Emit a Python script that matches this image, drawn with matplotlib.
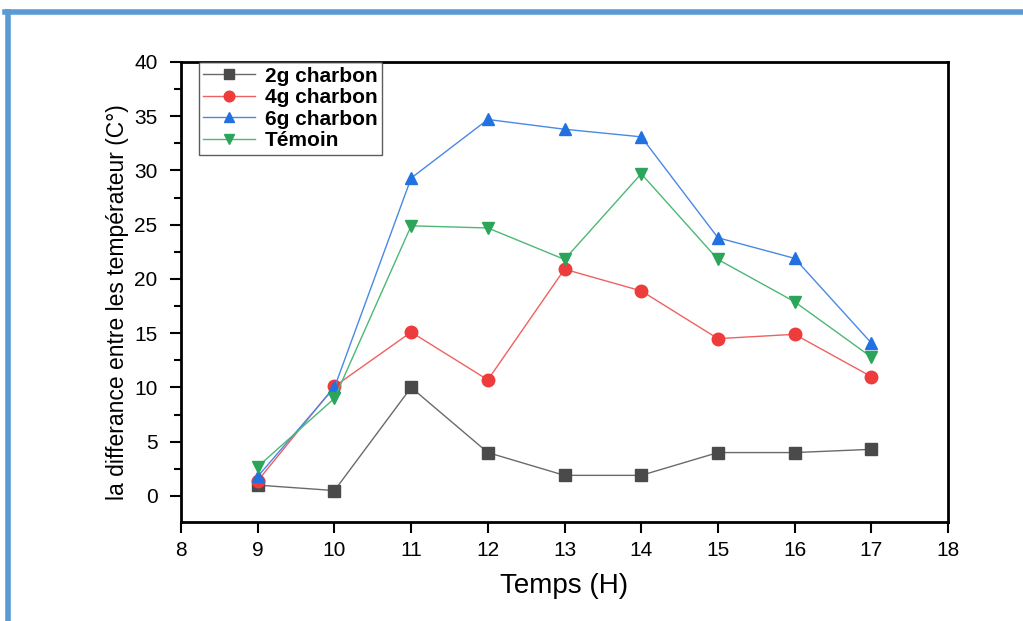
import numpy as np
import matplotlib
matplotlib.use('Agg')
import matplotlib.pyplot as plt
from matplotlib.lines import Line2D
from matplotlib.ticker import MultipleLocator

# data
hours = [9, 10, 11, 12, 13, 14, 15, 16, 17]
charbon_2g = [1.0, 0.5, 10.0, 4.0, 1.9, 1.9, 4.0, 4.0, 4.3]
charbon_4g = [1.4, 10.1, 15.1, 10.7, 20.9, 18.9, 14.5, 14.9, 11.0]
charbon_6g = [1.8, 10.0, 29.3, 34.7, 33.8, 33.1, 23.8, 21.9, 14.1]
temoin = [2.7, 9.0, 24.9, 24.7, 21.8, 29.7, 21.8, 17.9, 12.8]
labels = ['2g charbon', '4g charbon', '6g charbon', 'Témoin']

plt.rcParams['font.family'] = ['Liberation Sans', 'DejaVu Sans']

fig = plt.figure(figsize=(10.23, 6.21), dpi=100)
ax = fig.add_axes([0.177, 0.1594, 0.7497, 0.7408])

series = [
    (charbon_2g, 's', '#4a4a4a', '#6a6a6a'),
    (charbon_4g, 'o', '#ee3b3b', '#f06060'),
    (charbon_6g, '^', '#2271e0', '#4a88e6'),
    (temoin, 'v', '#2aa55a', '#4cb874'),
]
for (vals, mk, mcol, lcol), lab in zip(series, labels):
    ax.plot(hours, vals, color=lcol, lw=1.0, marker=mk, ms=9,
            markerfacecolor=mcol, markeredgecolor=mcol, label=lab)

ax.set_xlim(8, 18)
ax.set_ylim(-2.4, 40)
ax.xaxis.set_major_locator(MultipleLocator(1))
ax.yaxis.set_major_locator(MultipleLocator(5))
ax.yaxis.set_minor_locator(MultipleLocator(2.5))
ax.tick_params(axis='both', which='major', direction='out', length=8, width=1.5,
               labelsize=15, top=False, right=False)
ax.tick_params(axis='x', which='major', pad=6)
ax.tick_params(axis='y', which='major', pad=9)
ax.tick_params(axis='y', which='minor', direction='out', length=5, width=1.5)
for sp in ax.spines.values():
    sp.set_linewidth(2)

ax.set_xlabel('Temps (H)', fontsize=20, labelpad=9)
ax.set_ylabel('la differance entre les températeur (C°)', fontsize=16.5,
              family=['Liberation Sans Narrow', 'Liberation Sans'])
ax.yaxis.set_label_coords(-0.068, 0.478)

leg = ax.legend(loc='upper left', bbox_to_anchor=(0.023, 1.0), borderaxespad=0,
                frameon=True, fancybox=False, edgecolor='#333333', borderpad=0.22,
                labelspacing=0.12, handlelength=2.5, handletextpad=0.45,
                markerscale=0.85, prop={'weight': 'bold', 'size': 15})
leg.get_frame().set_linewidth(1.0)

# blue page border (top and left)
fig.add_artist(Line2D([0.005, 1.0], [0.981, 0.981], color='#5b9bd5', lw=4,
                      transform=fig.transFigure))
fig.add_artist(Line2D([0.0078, 0.0078], [0.0, 0.981], color='#5b9bd5', lw=4,
                      transform=fig.transFigure))

fig.savefig('out.png', dpi=100)
